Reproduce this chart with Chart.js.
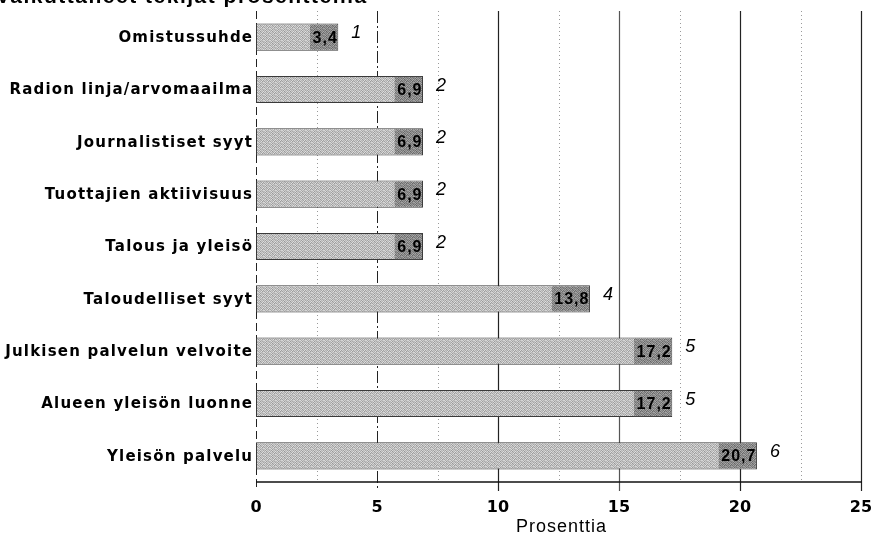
<!DOCTYPE html>
<html>
<head>
<meta charset="utf-8">
<script src="https://cdn.jsdelivr.net/npm/chart.js@4/dist/chart.umd.min.js"></script>
<style>
  html, body { margin: 0; padding: 0; background: #fff; }
  #wrap { width: 873px; height: 540px; }
</style>
</head>
<body>
<div id="wrap"><canvas id="c" width="873" height="540"></canvas></div>
<script>
// Reasons given, share of answers (%) and number of mentions
const categories = [
  'Omistussuhde',
  'Radion linja/arvomaailma',
  'Journalistiset syyt',
  'Tuottajien aktiivisuus',
  'Talous ja yleisö',
  'Taloudelliset syyt',
  'Julkisen palvelun velvoite',
  'Alueen yleisön luonne',
  'Yleisön palvelu'
];
const shares = [3.4, 6.9, 6.9, 6.9, 6.9, 13.8, 17.2, 17.2, 20.7];
const counts = [1, 2, 2, 2, 2, 4, 5, 5, 6];
const xTicks = [0, 5, 10, 15, 20, 25];
const minorGrid = [2.5, 7.5, 12.5, 17.5, 22.5];
const axisTitle = 'Prosenttia';
const chartTitle = 'Vaikuttaneet tekijät prosentteina';

const HEAVY = '"DejaVu Sans", "Liberation Sans", Arial, sans-serif';
const PLAIN = '"Liberation Sans", Arial, sans-serif';

// Stippled grey fill for the bars
function stipple(shift) {
  const tones = [
    [205, 168, 222, 190, 214, 176],
    [182, 226, 160, 210, 188, 230],
    [218, 190, 204, 172, 228, 166],
    [170, 212, 184, 232, 162, 206],
    [224, 178, 216, 186, 200, 220],
    [192, 228, 164, 208, 180, 196]
  ];
  const c = document.createElement('canvas');
  c.width = 6; c.height = 6;
  const g = c.getContext('2d');
  const img = g.createImageData(6, 6);
  for (let y = 0; y < 6; y++) for (let x = 0; x < 6; x++) {
    const v = Math.max(0, tones[y][x] - shift);
    const k = (y * 6 + x) * 4;
    img.data[k] = img.data[k + 1] = img.data[k + 2] = v;
    img.data[k + 3] = 255;
  }
  g.putImageData(img, 0, 0);
  return document.getElementById('c').getContext('2d').createPattern(c, 'repeat');
}
const barFill = stipple(8);
const labelFill = stipple(60);

const fmt = v => v.toFixed(1).replace('.', ',');

const decor = {
  id: 'decor',
  beforeDatasetsDraw(chart) {
    const { ctx, chartArea: a, scales: { x } } = chart;
    ctx.save();
    // minor dotted grid
    ctx.strokeStyle = '#9a9a9a';
    ctx.lineWidth = 1;
    ctx.setLineDash([1, 3]);
    minorGrid.forEach(v => {
      const px = Math.round(x.getPixelForValue(v)) + 0.5;
      ctx.beginPath(); ctx.moveTo(px, a.top); ctx.lineTo(px, a.bottom); ctx.stroke();
    });
    // major grid
    xTicks.forEach(v => {
      const px = Math.round(x.getPixelForValue(v)) + 0.5;
      if (v === 0) { ctx.setLineDash([8, 4]); ctx.strokeStyle = '#222'; ctx.lineWidth = 1; }
      else if (v === 5) { ctx.setLineDash([12, 3, 2, 3]); ctx.strokeStyle = '#222'; ctx.lineWidth = 1; }
      else { ctx.setLineDash([]); ctx.strokeStyle = v === 15 ? '#555' : '#222'; ctx.lineWidth = 1.2; }
      ctx.beginPath(); ctx.moveTo(px, a.top); ctx.lineTo(px, a.bottom + 9); ctx.stroke();
    });
    // baseline
    ctx.setLineDash([]);
    ctx.strokeStyle = '#111';
    ctx.lineWidth = 1.5;
    ctx.beginPath(); ctx.moveTo(a.left, a.bottom); ctx.lineTo(a.right + 1, a.bottom); ctx.stroke();
    ctx.restore();
  },
  afterDatasetsDraw(chart) {
    const { ctx, chartArea: a, scales: { x, y } } = chart;
    const meta = chart.getDatasetMeta(0);
    ctx.save();
    ctx.fillStyle = '#000';
    meta.data.forEach((bar, i) => {
      const end = x.getPixelForValue(shares[i]);
      const cy = y.getPixelForValue(i);
      const h = bar.height;
      // value inside the bar end
      ctx.font = 'bold 16px ' + PLAIN;
      ctx.letterSpacing = '1px';
      const txt = fmt(shares[i]);
      const w = ctx.measureText(txt).width - 1;
      ctx.fillStyle = labelFill;
      ctx.fillRect(end - w - 4, cy - h / 2 + 1, w + 3, h - 2);
      ctx.fillStyle = '#000';
      ctx.textAlign = 'left';
      ctx.textBaseline = 'middle';
      ctx.fillText(txt, end - w - 1.5, cy + 1);
      // number of mentions
      ctx.letterSpacing = '0px';
      ctx.font = 'italic 18px ' + PLAIN;
      ctx.fillText(String(counts[i]), end + 13, cy - 4);
    });
    // category labels
    ctx.font = 'bold 15px ' + HEAVY;
    ctx.letterSpacing = '1.2px';
    ctx.textAlign = 'left';
    ctx.textBaseline = 'middle';
    categories.forEach((c, i) => {
      const w = ctx.measureText(c).width - 1.2;
      ctx.fillText(c, 252 - w, y.getPixelForValue(i) + 1);
    });
    // axis title
    ctx.font = '18px ' + PLAIN;
    ctx.letterSpacing = '1px';
    const tw = ctx.measureText(axisTitle).width - 1;
    ctx.fillText(axisTitle, 561 - tw / 2, 527);
    // heading, mostly above the canvas edge
    ctx.font = 'bold 21px ' + PLAIN;
    ctx.letterSpacing = '1.5px';
    ctx.textBaseline = 'alphabetic';
    ctx.fillText(chartTitle, -4, 3);
    ctx.restore();
  }
};

new Chart(document.getElementById('c'), {
  type: 'bar',
  data: {
    labels: categories,
    datasets: [{
      data: shares,
      backgroundColor: barFill,
      borderColor: '#3a3a3a',
      borderWidth: 1,
      borderSkipped: false,
      barPercentage: 0.52,
      categoryPercentage: 1
    }]
  },
  options: {
    indexAxis: 'y',
    responsive: false,
    devicePixelRatio: 1,
    animation: false,
    layout: { padding: { top: 11, right: 12, left: 0, bottom: 0 } },
    plugins: { legend: { display: false }, tooltip: { enabled: false }, title: { display: false } },
    scales: {
      x: {
        min: 0, max: 25,
        afterBuildTicks: s => { s.ticks = xTicks.map(v => ({ value: v })); },
        ticks: {
          color: '#000',
          font: { family: HEAVY, size: 16, weight: 'bold' },
          padding: 16
        },
        grid: { display: false, drawTicks: false },
        border: { display: false },
        afterFit: s => { s.height = 58; s.paddingLeft = 0; s.paddingRight = 0; }
      },
      y: {
        ticks: { display: false },
        grid: { display: false, drawTicks: false },
        border: { display: false },
        afterFit: s => { s.width = 256; }
      }
    }
  },
  plugins: [decor]
});
</script>
</body>
</html>
